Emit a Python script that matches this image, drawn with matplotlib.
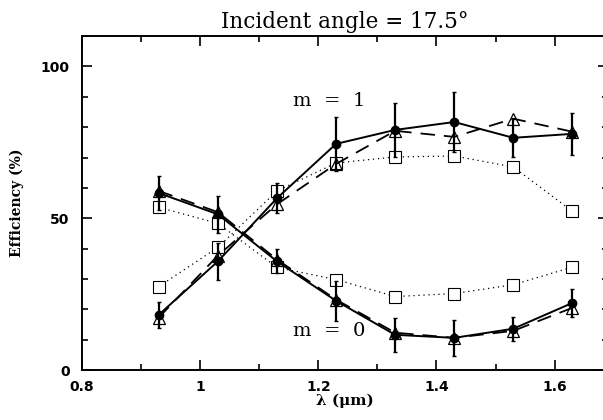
import numpy as np
import matplotlib.pyplot as plt
from matplotlib.ticker import MultipleLocator

wavelength = [0.93, 1.03, 1.13, 1.23, 1.33, 1.43, 1.53, 1.63]

# measured (filled circles, solid line)
meas_m1 = [18.2, 35.8, 56.6, 74.5, 79.1, 81.7, 76.5, 77.8]
err_m1 = [4.3, 6.0, 5.0, 9.0, 9.0, 10.0, 6.3, 7.0]
meas_m0 = [58.3, 51.3, 35.8, 22.8, 11.6, 10.6, 13.6, 22.1]
err_m0 = [5.7, 6.0, 4.0, 6.6, 5.5, 6.0, 4.0, 4.5]

# triangles, dashed line
tri_m1 = [17.3, 37.7, 54.6, 67.9, 78.8, 76.8, 82.8, 78.5]
tri_m0 = [59.0, 52.0, 36.4, 23.2, 12.3, 10.6, 12.9, 20.5]

# squares, dotted line
sq_m1 = [27.5, 40.4, 59.0, 68.2, 70.2, 70.5, 66.9, 52.3]
sq_m0 = [53.6, 48.3, 33.8, 29.8, 24.2, 25.2, 28.1, 33.9]

fig = plt.figure(figsize=(6.03, 4.2), dpi=100)
# right spine sits just outside the picture, as in the original scan
ax = fig.add_axes([0.136, 0.119, 0.872, 0.795])

for sq in (sq_m1, sq_m0):
    ax.plot(wavelength, sq, linestyle=(0, (1, 3)), color="black", linewidth=0.9,
            marker="s", markersize=8, markerfacecolor="white",
            markeredgecolor="black", markeredgewidth=0.8)

for tri in (tri_m1, tri_m0):
    ax.plot(wavelength, tri, linestyle=(0, (8, 5)), color="black", linewidth=1.3,
            marker="^", markersize=9, markerfacecolor="none",
            markeredgecolor="black", markeredgewidth=0.9)

for meas, err in ((meas_m1, err_m1), (meas_m0, err_m0)):
    ax.errorbar(wavelength, meas, yerr=err, color="black", linewidth=1.4,
                elinewidth=1.6, capsize=1.5, marker="o", markersize=6)

ax.text(1.157, 88.5, "m  =  1", fontsize=14, family="DejaVu Serif", va="center")
ax.text(1.157, 13, "m  =  0", fontsize=14, family="DejaVu Serif", va="center")

ax.set_xlim(0.8, 1.69)
ax.set_ylim(0, 110)
ax.xaxis.set_major_locator(MultipleLocator(0.2))
ax.xaxis.set_minor_locator(MultipleLocator(0.1))
ax.yaxis.set_major_locator(MultipleLocator(50))
ax.yaxis.set_minor_locator(MultipleLocator(10))
ax.set_xticks([0.8, 1.0, 1.2, 1.4, 1.6])
ax.set_xticklabels(["0.8", "1", "1.2", "1.4", "1.6"])
ax.tick_params(which="both", direction="in", top=True, right=True, width=1.2)
ax.tick_params(which="major", length=7, labelsize=10)
ax.tick_params(axis="x", which="major", pad=7)
ax.tick_params(axis="y", which="major", pad=9)
ax.tick_params(which="minor", length=4)
for lbl in ax.get_xticklabels() + ax.get_yticklabels():
    lbl.set_fontweight("bold")
ax.get_yticklabels()[0].set_va("bottom")
for sp in ax.spines.values():
    sp.set_linewidth(1.4)

ax.set_title("Incident angle = 17.5°", fontsize=15.5, family="DejaVu Serif", pad=6)
ax.set_xlabel("λ (μm)", fontsize=11, fontweight="bold", family="DejaVu Serif", labelpad=0)
ax.set_ylabel("Efficiency (%)", fontsize=10, fontweight="bold", family="DejaVu Serif", labelpad=12)

fig.savefig("out.png", dpi=100)
